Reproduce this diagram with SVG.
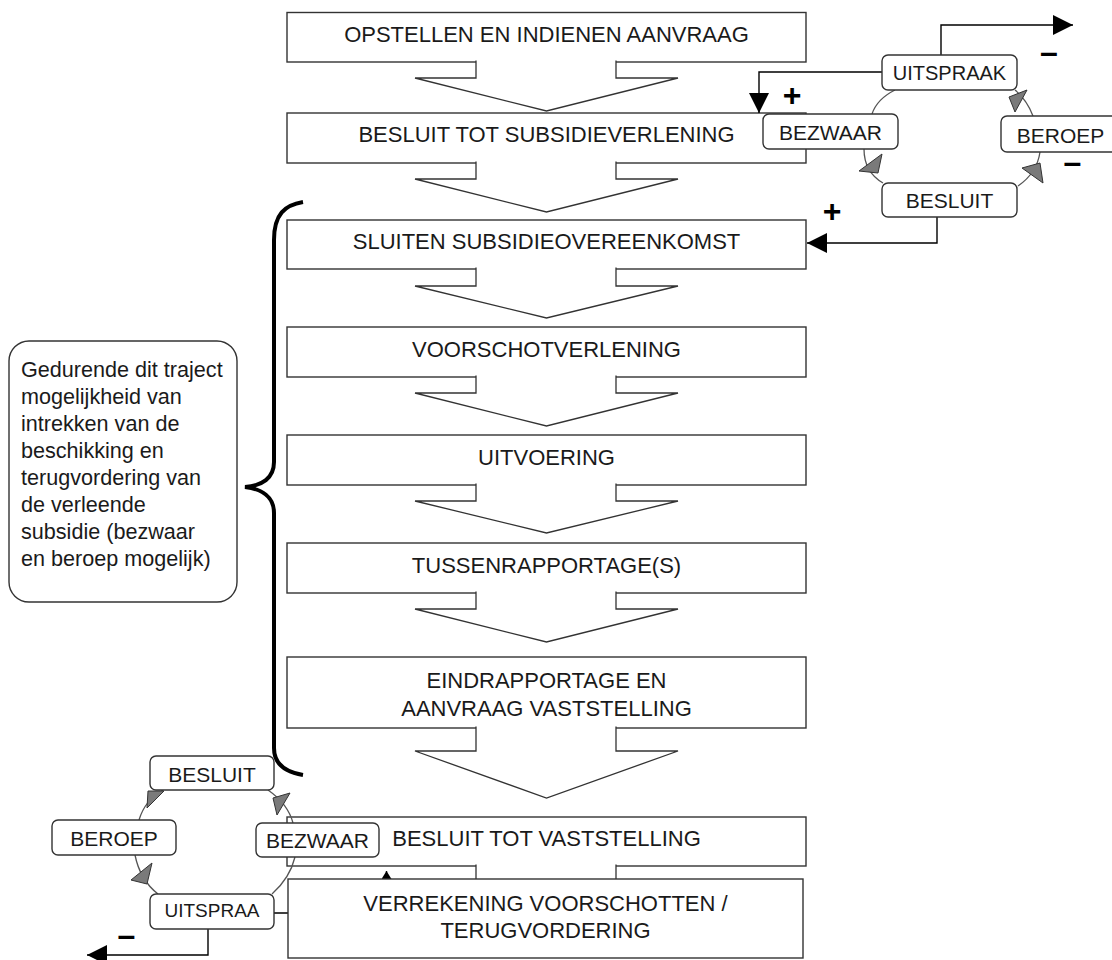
<svg xmlns="http://www.w3.org/2000/svg" width="1112" height="960" viewBox="0 0 1112 960">
<style>
.box{fill:#fff;stroke:#333;stroke-width:1.4}
.rbox{fill:#fff;stroke:#333;stroke-width:1.4}
.arr{fill:#fff;stroke:#333;stroke-width:1.3}
.t{font-family:"Liberation Sans",Arial,sans-serif;font-size:22px;fill:#1a1a1a;text-anchor:middle}
.s{font-family:"Liberation Sans",Arial,sans-serif;font-size:21px;fill:#1a1a1a;text-anchor:middle}
.n{font-family:"Liberation Sans",Arial,sans-serif;font-size:21.6px;fill:#1a1a1a}
.sym{font-family:"Liberation Sans",Arial,sans-serif;font-size:32px;font-weight:bold;fill:#000;text-anchor:middle;dominant-baseline:central}
.con{fill:none;stroke:#000;stroke-width:1.4}
.arc{fill:none;stroke:#555;stroke-width:1.3}
.gh{fill:#7a7a7a;stroke:#333;stroke-width:1}
</style>
<defs>
<marker id="blk" markerUnits="userSpaceOnUse" markerWidth="20" markerHeight="20" refX="20" refY="10" orient="auto" viewBox="0 0 20 20">
<path d="M0,0 L20,10 L0,20 z" fill="#000"/>
</marker>
<marker id="blkS" markerUnits="userSpaceOnUse" markerWidth="9" markerHeight="10" refX="8" refY="5" orient="auto" viewBox="0 0 8 10">
<path d="M0,0 L8,5 L0,10 z" fill="#000"/>
</marker>
</defs>

<!-- brace -->
<path id="brace" d="M303,202 C285,205 274,214 274,240 L274,462 C274,478 262,486 245,487 C262,489 274,497 274,513 L274,748 C274,764 285,772 303,775" fill="none" stroke="#000" stroke-width="4"/>

<g id="note">
<rect x="9" y="341" width="228" height="261" rx="20" ry="20" class="rbox"/>
<text class="n" x="21" y="377">Gedurende dit traject</text>
<text class="n" x="21" y="404">mogelijkheid van</text>
<text class="n" x="21" y="431">intrekken van de</text>
<text class="n" x="21" y="458">beschikking en</text>
<text class="n" x="21" y="485">terugvordering van</text>
<text class="n" x="21" y="512">de verleende</text>
<text class="n" x="21" y="539">subsidie (bezwaar</text>
<text class="n" x="21" y="566">en beroep mogelijk)</text>
</g>

<g id="n1"><rect class="box" x="287" y="12.5" width="519" height="49.5"/><text class="t" x="546.5" y="41.5">OPSTELLEN EN INDIENEN AANVRAAG</text></g>
<g id="n2"><rect class="box" x="287" y="113" width="519" height="50"/><text class="t" x="546.5" y="142">BESLUIT TOT SUBSIDIEVERLENING</text></g>
<g id="n3"><rect class="box" x="287" y="220" width="519" height="49"/><text class="t" x="546.5" y="249">SLUITEN SUBSIDIEOVEREENKOMST</text></g>
<g id="n4"><rect class="box" x="287" y="327" width="519" height="50"/><text class="t" x="546.5" y="356.5">VOORSCHOTVERLENING</text></g>
<g id="n5"><rect class="box" x="287" y="435" width="519" height="50"/><text class="t" x="546.5" y="464.5">UITVOERING</text></g>
<g id="n6"><rect class="box" x="287" y="543" width="519" height="50"/><text class="t" x="546.5" y="572.5">TUSSENRAPPORTAGE(S)</text></g>
<g id="n7"><rect class="box" x="287" y="657" width="519" height="71"/><text class="t" x="546.5" y="688">EINDRAPPORTAGE EN</text><text class="t" x="546.5" y="716">AANVRAAG VASTSTELLING</text></g>
<g id="n8"><rect class="box" x="287" y="817" width="519" height="49"/><text class="t" x="546.5" y="846">BESLUIT TOT VASTSTELLING</text></g>

<!-- block arrows between steps -->
<g id="flow">
<path class="arr" d="M476,60.5 V78 H415 L546.5,111 L678,78 H616 V60.5"/>
<path class="arr" d="M476,161.5 V179 H415 L546.5,212 L678,179 H616 V161.5"/>
<path class="arr" d="M476,267.5 V286 H415 L546.5,318 L678,286 H616 V267.5"/>
<path class="arr" d="M476,375.5 V393 H415 L546.5,426 L678,393 H616 V375.5"/>
<path class="arr" d="M476,483.5 V501 H415 L546.5,533 L678,501 H616 V483.5"/>
<path class="arr" d="M476,591.5 V609 H415 L546.5,642 L678,609 H616 V591.5"/>
<path class="arr" d="M476,726.5 V751 H415 L546.5,798 L678,751 H616 V726.5"/>
<path class="arr" d="M476,864.5 V884 H415 L546.5,917 L678,884 H616 V864.5"/>
</g>

<!-- connectors -->
<g id="connectors">
<path class="arc" d="M895,90 Q877,99 872,114"/>
<path class="arc" d="M864,149 Q864,172 883,183"/>
<path class="arc" d="M1018,186 Q1037,173 1040,152"/>
<path class="arc" d="M1033,116 Q1027,100 1015,90"/>
<path class="arc" d="M163,790 Q145,800 139,820"/>
<path class="arc" d="M135,855 Q140,880 158,894"/>
<path class="arc" d="M272,894 Q290,878 295,857"/>
<path class="arc" d="M293,823 Q288,804 268,790"/>
<polygon class="gh" points="1027,90 1009,97 1015,112"/>
<polygon class="gh" points="882,154 859,171 878,173"/>
<polygon class="gh" points="1022,168 1040,163 1043,183"/>
<polygon class="gh" points="164,791 148,791 147,808"/>
<polygon class="gh" points="290,793 273,798 277,815"/>
<polygon class="gh" points="152,863 131,880 147,884"/>
<path class="con" d="M941,55 V25 H1073" marker-end="url(#blk)"/>
<path class="con" d="M882,72 H759 V113" marker-end="url(#blk)"/>
<path class="con" d="M937,217 V243 H807" marker-end="url(#blk)"/>
<path class="con" d="M208,929 V955 H87" marker-end="url(#blk)"/>
<path class="con" d="M274,913 H386.5 V871" marker-end="url(#blkS)"/>
</g>

<g id="n9"><rect class="box" x="288" y="879" width="515" height="79"/><text class="t" x="545.5" y="911">VERREKENING VOORSCHOTTEN /</text><text class="t" x="545.5" y="938">TERUGVORDERING</text></g>

<!-- top-right cycle -->
<g id="tr-uitspraak"><rect class="rbox" x="882" y="55" width="135" height="35" rx="6"/><text class="s" x="949.5" y="80" style="font-size:20px">UITSPRAAK</text></g>
<g id="tr-bezwaar"><rect class="rbox" x="763" y="114" width="135" height="35" rx="6"/><text class="s" x="830.5" y="140">BEZWAAR</text></g>
<g id="tr-beroep"><rect class="rbox" x="1001" y="116" width="125" height="36" rx="6"/><text class="s" x="1060.5" y="143">BEROEP</text></g>
<g id="tr-besluit"><rect class="rbox" x="882" y="183" width="135" height="34" rx="6"/><text class="s" x="949.5" y="208">BESLUIT</text></g>

<!-- bottom-left cycle -->
<g id="bl-besluit"><rect class="rbox" x="150" y="756" width="124" height="34" rx="6"/><text class="s" x="212" y="781.5">BESLUIT</text></g>
<g id="bl-beroep"><rect class="rbox" x="52" y="820" width="124" height="35" rx="6"/><text class="s" x="114" y="846">BEROEP</text></g>
<g id="bl-bezwaar"><rect class="rbox" x="256" y="823" width="123" height="34" rx="6"/><text class="s" x="317.5" y="847.5">BEZWAAR</text></g>
<g id="bl-uitspraak"><rect class="rbox" x="150" y="894" width="124" height="35" rx="6"/><text class="s" x="212" y="917" style="font-size:19px">UITSPRAA</text></g>

<g id="signs">
<text class="sym" x="792" y="95">+</text>
<text class="sym" x="832" y="211">+</text>
<text class="sym" x="1049" y="52">–</text>
<text class="sym" x="1072.5" y="162">–</text>
<text class="sym" x="126.5" y="935">–</text>
</g>
</svg>
